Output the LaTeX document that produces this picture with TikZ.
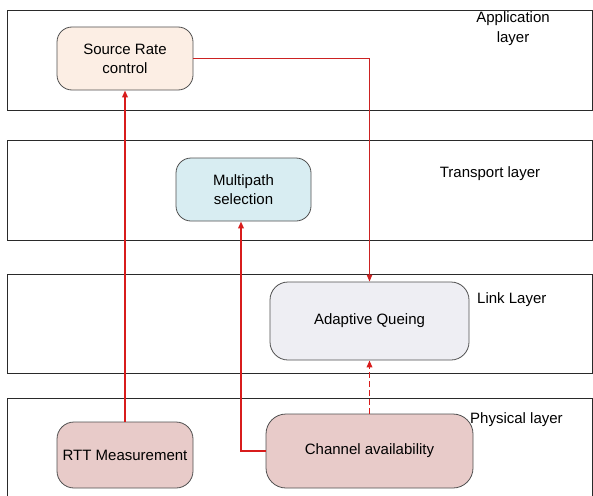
\documentclass[tikz,border=0pt]{standalone}
\usepackage{fontspec}
\setmainfont{Liberation Sans}
\usetikzlibrary{arrows.meta}

\definecolor{bandline}{HTML}{2A2A2A}
\definecolor{boxline}{HTML}{505050}
\definecolor{peach}{HTML}{FCEEE4}
\definecolor{paleblue}{HTML}{D8EDF2}
\definecolor{palegrey}{HTML}{EEEEF3}
\definecolor{rosy}{HTML}{E8CBC9}
\definecolor{linkred}{HTML}{D81C1C}
\definecolor{thinred}{HTML}{CC2222}

\tikzset{
  band/.style={draw=bandline, line width=0.9pt},
  block/.style={draw=boxline, line width=0.8pt, align=center,
    font=\fontsize{15}{19}\selectfont, inner sep=2pt},
  layerlabel/.style={align=center, font=\fontsize{15}{20}\selectfont, inner sep=0pt},
  tip/.style={-{Triangle[length=7pt,width=5.5pt]}},
  heavy/.style={tip, color=linkred, line width=1.7pt},
  light/.style={tip, color=thinred, line width=1.1pt},
}

\begin{document}
\begin{tikzpicture}[x=1pt, y=-1pt]
  \useasboundingbox (0,0) rectangle (593,495);

  % protocol layers
  \draw[band] (7,10) rectangle (592,110);
  \draw[band] (7,140) rectangle (592,240);
  \draw[band] (7,274) rectangle (592,373);
  \draw[band] (592,505) -- (7,505) -- (7,398) -- (592,398) -- (592,505);

  \node[layerlabel] (lapp) at (513,29) {Application\\layer};
  \node[layerlabel] (ltrans) at (490,174) {Transport layer};
  \node[layerlabel, anchor=west] (llink) at (477,300) {Link Layer};
  \node[layerlabel, anchor=west] (lphys) at (470,420) {Physical layer};

  % functional blocks
  \node[block, fill=peach, rounded corners=15pt, minimum width=136pt, minimum height=63pt]
    (src) at (125,58.5) {Source Rate\\control};
  \node[block, fill=paleblue, rounded corners=15pt, minimum width=135pt, minimum height=63pt]
    (mp) at (243.5,189.5) {Multipath\\selection};
  \node[block, fill=palegrey, rounded corners=18pt, minimum width=199pt, minimum height=78pt]
    (aq) at (369.5,321) {Adaptive Queing};
  \node[block, fill=rosy, rounded corners=17pt, minimum width=136pt, minimum height=66pt]
    (rtt) at (125,455) {RTT Measurement};
  \node[block, fill=rosy, rounded corners=20pt, minimum width=207pt, minimum height=74pt]
    (ch) at (369.5,451) {Channel availability};

  % cross-layer signalling
  \draw[heavy] (rtt.north) -- (src.south);
  \draw[heavy] (ch.west) -| ([xshift=-2.5pt]mp.south);
  \draw[light] (src.east) -| (aq.north);
  \draw[heavy, dash pattern=on 6pt off 3pt] (ch.north) -- (aq.south);
\end{tikzpicture}
\end{document}
